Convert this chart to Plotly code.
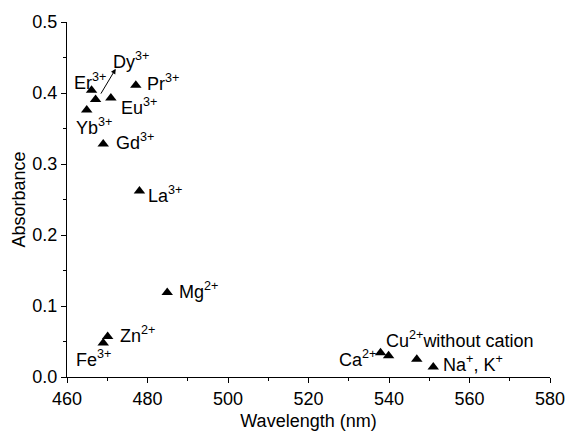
import plotly.graph_objects as go

ions = ["Er3+", "Dy3+", "Eu3+", "Pr3+", "Yb3+", "Gd3+", "La3+", "Mg2+", "Zn2+", "Fe3+",
        "Ca2+", "Cu2+", "without cation", "Na+, K+"]
wavelength = [466.1, 467.1, 470.9, 477.1, 464.9, 469.0, 478.0, 484.9, 470.1, 469.0,
              537.9, 539.9, 546.9, 551.0]
absorbance = [0.404, 0.391, 0.393, 0.411, 0.376, 0.328, 0.262, 0.119, 0.057, 0.048,
              0.034, 0.030, 0.025, 0.014]

# label texts and their anchor positions (data coords, glyph centre)
label_text = ["Er<sup>3+</sup>", "Pr<sup>3+</sup>", "Eu<sup>3+</sup>", "Yb<sup>3+</sup>",
              "Gd<sup>3+</sup>", "La<sup>3+</sup>", "Mg<sup>2+</sup>", "Zn<sup>2+</sup>",
              "Fe<sup>3+</sup>", "Ca<sup>2+</sup>", "Cu<sup>2+</sup>without cation",
              "Na<sup>+</sup>, K<sup>+</sup>"]
label_x = [461.4, 479.6, 473.2, 462.0, 471.9, 479.9, 487.6, 472.9, 462.0, 537.0, 539.0, 553.2]
label_y = [0.415, 0.414, 0.380, 0.351, 0.330, 0.256, 0.120, 0.059, 0.024, 0.024, 0.051, 0.018]
label_anchor = ["left"] * 9 + ["right", "left", "left"]

fig = go.Figure()
fig.add_trace(go.Scatter(
    x=wavelength, y=absorbance, mode="markers",
    marker=dict(symbol="triangle-up", size=10, color="black"),
    showlegend=False, hoverinfo="x+y"))

font = dict(family="Liberation Sans, Arial, sans-serif", size=18, color="black")
for t, x, y, a in zip(label_text, label_x, label_y, label_anchor):
    fig.add_annotation(x=x, y=y, text=t, showarrow=False, xanchor=a, yanchor="middle",
                       font=font, yshift=1, borderpad=0)

# Dy label with arrow
fig.add_annotation(x=471.2, y=0.444, text="Dy<sup>3+</sup>", showarrow=False,
                   xanchor="left", yanchor="middle", font=font, yshift=1, borderpad=0)
fig.add_annotation(x=472.1, y=0.434, ax=468.2, ay=0.397, axref="x", ayref="y",
                   xref="x", yref="y", text="", showarrow=True, arrowhead=2,
                   arrowsize=1, arrowwidth=1, arrowcolor="black")

axis_font = dict(family="Liberation Sans, Arial, sans-serif", size=18, color="black")
fig.update_layout(
    width=567, height=431,
    margin=dict(l=67, r=17, t=22, b=54),
    plot_bgcolor="white", paper_bgcolor="white",
    font=axis_font,
    xaxis=dict(range=[460, 580], dtick=20, tick0=460, showgrid=False, zeroline=False,
               automargin=False,
               showline=True, linecolor="black", linewidth=1, ticks="outside",
               ticklen=5, tickcolor="black",
               minor=dict(dtick=10, ticks="outside", ticklen=3, tickcolor="black"),
               title=dict(text="Wavelength (nm)", font=axis_font, standoff=8),
               tickfont=axis_font),
    yaxis=dict(range=[0, 0.5], dtick=0.1, showgrid=False, zeroline=False,
               automargin=False,
               showline=True, linecolor="black", linewidth=1, ticks="outside",
               ticklen=5, tickcolor="black", tickformat=".1f",
               minor=dict(dtick=0.05, ticks="outside", ticklen=3, tickcolor="black"),
               title=dict(text="Absorbance", font=axis_font, standoff=2),
               tickfont=axis_font),
)

fig.write_html("out.html",
               config={"displayModeBar": False},
               post_script="document.body.style.margin='0';"
                           "document.body.style.overflow='hidden';")
